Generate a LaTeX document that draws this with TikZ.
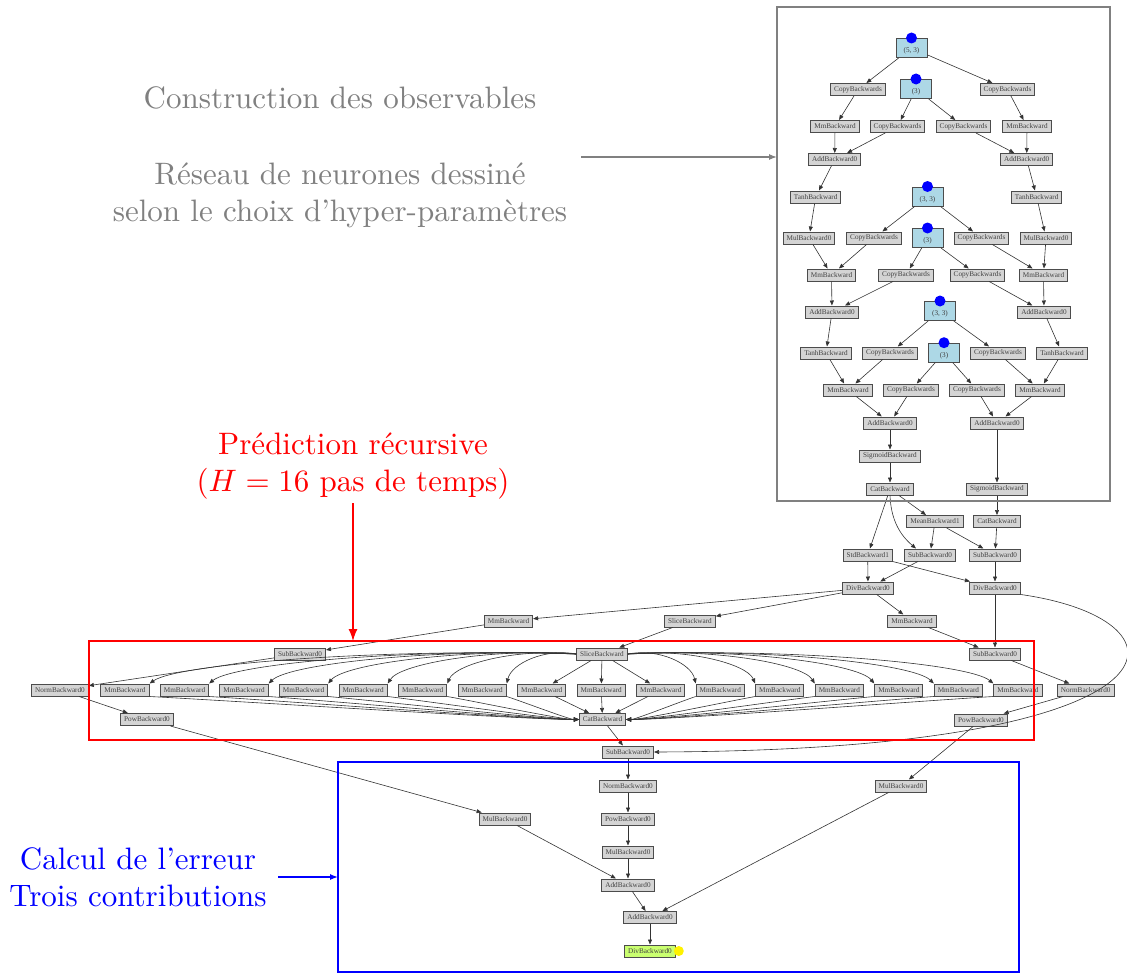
\documentclass[tikz,border=0pt]{standalone}
\usepackage{fontspec}
\usepackage{amsmath}
\usepackage{tikz}
\usetikzlibrary{arrows.meta}
\newfontfamily\gvfont{Liberation Serif}
\colorlet{opfill}{black!17}
\colorlet{opdraw}{black!70}
\colorlet{edgecol}{black!80}
\definecolor{prmfill}{RGB}{173,216,230}
\definecolor{outfill}{RGB}{202,255,112}

\tikzset{
  op/.style={draw=opdraw, fill=opfill, line width=1pt, inner xsep=3.5pt, inner ysep=0pt,
    minimum height=12pt, font=\gvfont\fontsize{7.2}{8}\selectfont, text=black!75},
  prm/.style={op, fill=prmfill, minimum width=31pt, text height=11pt, text depth=2pt, inner ysep=3pt},
  gvarrow/.style={draw=edgecol, line width=0.6pt, -{Triangle[length=5pt,width=4pt]}},
  lbl/.style={scale=3.1, align=center, inner sep=1pt}
}

\begin{document}
\begin{tikzpicture}[x=1pt, y=-1pt, >=Stealth]
  \useasboundingbox (0,0) rectangle (1127,974);

  % Big labels
  \node[lbl, text=gray] (obs) at (340,98) {Construction des observables};
  \node[lbl, text=gray] (nn) at (340,195) {Réseau de neurones dessiné\\selon le choix d'hyper-paramètres};
  \node[lbl, text=red] (pred) at (353,466) {Prédiction récursive\\($H = 16$ pas de temps)};
  \node[lbl, text=blue] (err) at (138,877) {Calcul de l'erreur\\Trois contributions};
  \coordinate (grayfrom) at (581,157);
  \coordinate (grayto) at (777,157);
  \coordinate (redin) at (353,641);
  \coordinate (bluefrom) at (278,877);
  \coordinate (bluein) at (338,877);

  % Parameters (leaves)
  \node[prm] (pA) at (911.5,48) {(5, 3)};
  \node[prm] (pB) at (916,89) {(3)};
  \node[prm] (pC) at (927.5,196.5) {(3, 3)};
  \node[prm] (pD) at (927.5,238) {(3)};
  \node[prm] (pE) at (940,311) {(3, 3)};
  \node[prm] (pF) at (944,352.7) {(3)};
  \foreach \p in {pA,pB,pC,pD,pE,pF} {
    \fill[blue] (\p.north) circle[radius=5.5pt];
  }

  % First layer
  \node[op] (cpA) at (858,89.5) {CopyBackwards};
  \node[op] (cpB) at (1007.5,89.5) {CopyBackwards};
  \node[op] (mmA) at (835,126.5) {MmBackward};
  \node[op] (cpC) at (897.5,126.5) {CopyBackwards};
  \node[op] (cpD) at (963.5,126.5) {CopyBackwards};
  \node[op] (mmB) at (1027,126.5) {MmBackward};
  \node[op] (addA) at (834.7,159.5) {AddBackward0};
  \node[op] (addB) at (1026.7,159.5) {AddBackward0};
  \node[op] (tnA) at (815.7,197) {TanhBackward};
  \node[op] (tnB) at (1036.7,197) {TanhBackward};

  % Second layer
  \node[op] (mulA) at (809,238) {MulBackward0};
  \node[op] (cpE) at (874,238) {CopyBackwards};
  \node[op] (cpF) at (981.5,238) {CopyBackwards};
  \node[op] (mulB) at (1046,238) {MulBackward0};
  \node[op] (mmC) at (831.5,275) {MmBackward};
  \node[op] (cpG) at (906,275) {CopyBackwards};
  \node[op] (cpH) at (977.5,275) {CopyBackwards};
  \node[op] (mmD) at (1043.5,275) {MmBackward};
  \node[op] (addC) at (832,312) {AddBackward0};
  \node[op] (addD) at (1044,312) {AddBackward0};

  % Third layer
  \node[op] (tnC) at (826,353) {TanhBackward};
  \node[op] (cpI) at (890,353) {CopyBackwards};
  \node[op] (cpJ) at (998,353) {CopyBackwards};
  \node[op] (tnD) at (1062,353) {TanhBackward};
  \node[op] (mmE) at (848,390) {MmBackward};
  \node[op] (cpK) at (911,390) {CopyBackwards};
  \node[op] (cpL) at (977,390) {CopyBackwards};
  \node[op] (mmF) at (1040,390) {MmBackward};
  \node[op] (addE) at (890,423) {AddBackward0};
  \node[op] (addF) at (997,423) {AddBackward0};
  \node[op] (sgA) at (890,456) {SigmoidBackward};
  \node[op] (catA) at (890,489) {CatBackward};
  \node[op] (sgB) at (997,489) {SigmoidBackward};

  % Normalisation
  \node[op] (mean) at (935,521.5) {MeanBackward1};
  \node[op] (catB) at (997,521.5) {CatBackward};
  \node[op] (std) at (867.7,555) {StdBackward1};
  \node[op] (subA) at (930,555) {SubBackward0};
  \node[op] (subB) at (995,555) {SubBackward0};
  \node[op] (divA) at (868,588) {DivBackward0};
  \node[op] (divB) at (995,588) {DivBackward0};
  \node[op] (mmL) at (508.5,621) {MmBackward};
  \node[op] (slA) at (690,621) {SliceBackward};
  \node[op] (mmG) at (912,621) {MmBackward};

  % Recursive prediction
  \node[op] (subL) at (300,654) {SubBackward0};
  \node[op] (slB) at (602,654) {SliceBackward};
  \node[op] (subC) at (995,654) {SubBackward0};
  \node[op] (nrmA) at (60,690) {NormBackward0};
  \foreach \i in {0,...,15} {
    \node[op] (mm\i) at ({125+59.53*\i},690) {MmBackward};
  }
  \node[op] (nrmB) at (1085.7,690) {NormBackward0};
  \node[op] (powA) at (147,719.5) {PowBackward0};
  \node[op] (cat) at (602.5,719.5) {CatBackward};
  \node[op] (powB) at (981,720) {PowBackward0};

  % Error
  \node[op] (subD) at (628,752) {SubBackward0};
  \node[op] (nrmC) at (628,786) {NormBackward0};
  \node[op] (mulR) at (901,786) {MulBackward0};
  \node[op] (mulL) at (505,819) {MulBackward0};
  \node[op] (powC) at (628,819) {PowBackward0};
  \node[op] (mulC) at (628,852) {MulBackward0};
  \node[op] (addG) at (628,885) {AddBackward0};
  \node[op] (addH) at (650,917.5) {AddBackward0};
  \node[op, fill=outfill] (divF) at (650,951) {DivBackward0};
  \fill[yellow] ([xshift=3pt]divF.east) circle[radius=5pt];

  % Straight connectors
  \foreach \a/\b in {pA/cpA, pA/cpB, pB/cpC, pB/cpD, cpA/mmA, cpB/mmB, mmA/addA, cpC/addA,
      cpD/addB, mmB/addB, addA/tnA, addB/tnB, tnA/mulA, tnB/mulB, pC/cpE, pC/cpF, pD/cpG,
      pD/cpH, mulA/mmC, cpE/mmC, cpF/mmD, mulB/mmD, mmC/addC, cpG/addC, cpH/addD, mmD/addD,
      addC/tnC, addD/tnD, pE/cpI, pE/cpJ, pF/cpK, pF/cpL, tnC/mmE, cpI/mmE, cpJ/mmF, tnD/mmF,
      mmE/addE, cpK/addE, cpL/addF, mmF/addF, addE/sgA, sgA/catA, addF/sgB, sgB/catB,
      catA/std, catA/mean, mean/subA, mean/subB, catB/subB, std/divA, subA/divA, std/divB,
      subB/divB, divA/mmL, divA/slA, divA/mmG, mmL/subL, slA/slB, mmG/subC, divB/subC,
      subL/nrmA, subC/nrmB, nrmA/powA, nrmB/powB, powA/mulL, powB/mulR, cat/subD,
      subD/nrmC, nrmC/powC, powC/mulC, mulC/addG, mulL/addG, addG/addH, mulR/addH, addH/divF} {
    \draw[gvarrow] (\a) -- (\b);
  }

  % Curved connectors
  \draw[gvarrow] (catA.south) .. controls (891,520) and (900,535) .. ([xshift=-14pt]subA.north);
  \draw[gvarrow] (divB.south east) .. controls (1200,620) and (1200,750) .. (subD.east);

  % Slice -> Mm -> Cat fan
  \foreach \i in {0,...,6} {
    \pgfmathsetmacro\dd{0.45*(427-59.53*\i)}
    \draw[gvarrow] (slB.west) .. controls +(-\dd,-6) and +(0.15*\dd,-20) .. (mm\i.north east);
    \draw[gvarrow] (mm\i.south east) .. controls +(0.4*\dd,4) and +(-0.3*\dd,0) .. (cat.west);
  }
  \foreach \i in {10,...,15} {
    \pgfmathsetmacro\dd{0.45*(59.53*\i-527)}
    \draw[gvarrow] (slB.east) .. controls +(\dd,-6) and +(-0.15*\dd,-20) .. (mm\i.north west);
    \draw[gvarrow] (mm\i.south west) .. controls +(-0.4*\dd,4) and +(0.3*\dd,0) .. (cat.east);
  }
  \foreach \i in {7,8,9} {
    \draw[gvarrow] (slB) -- (mm\i);
    \draw[gvarrow] (mm\i) -- (cat);
  }

  % Frames around the three stages
  \draw[gray, line width=1.6pt] (777,7) rectangle (1110,501);
  \draw[red, line width=1.4pt] (89,641) rectangle (1034,740);
  \draw[blue, line width=1.6pt] (338,762) rectangle (1019,972);

  % Pointers
  \draw[gray, line width=1.3pt, -{Latex[length=8pt,width=6pt]}] (grayfrom) -- (grayto);
  \draw[red, line width=1.3pt, -{Latex[length=12pt,width=9pt]}] (pred.south) -- (redin);
  \draw[blue, line width=1.3pt, -{Latex[length=8pt,width=6pt]}] (bluefrom) -- (bluein);
\end{tikzpicture}
\end{document}
